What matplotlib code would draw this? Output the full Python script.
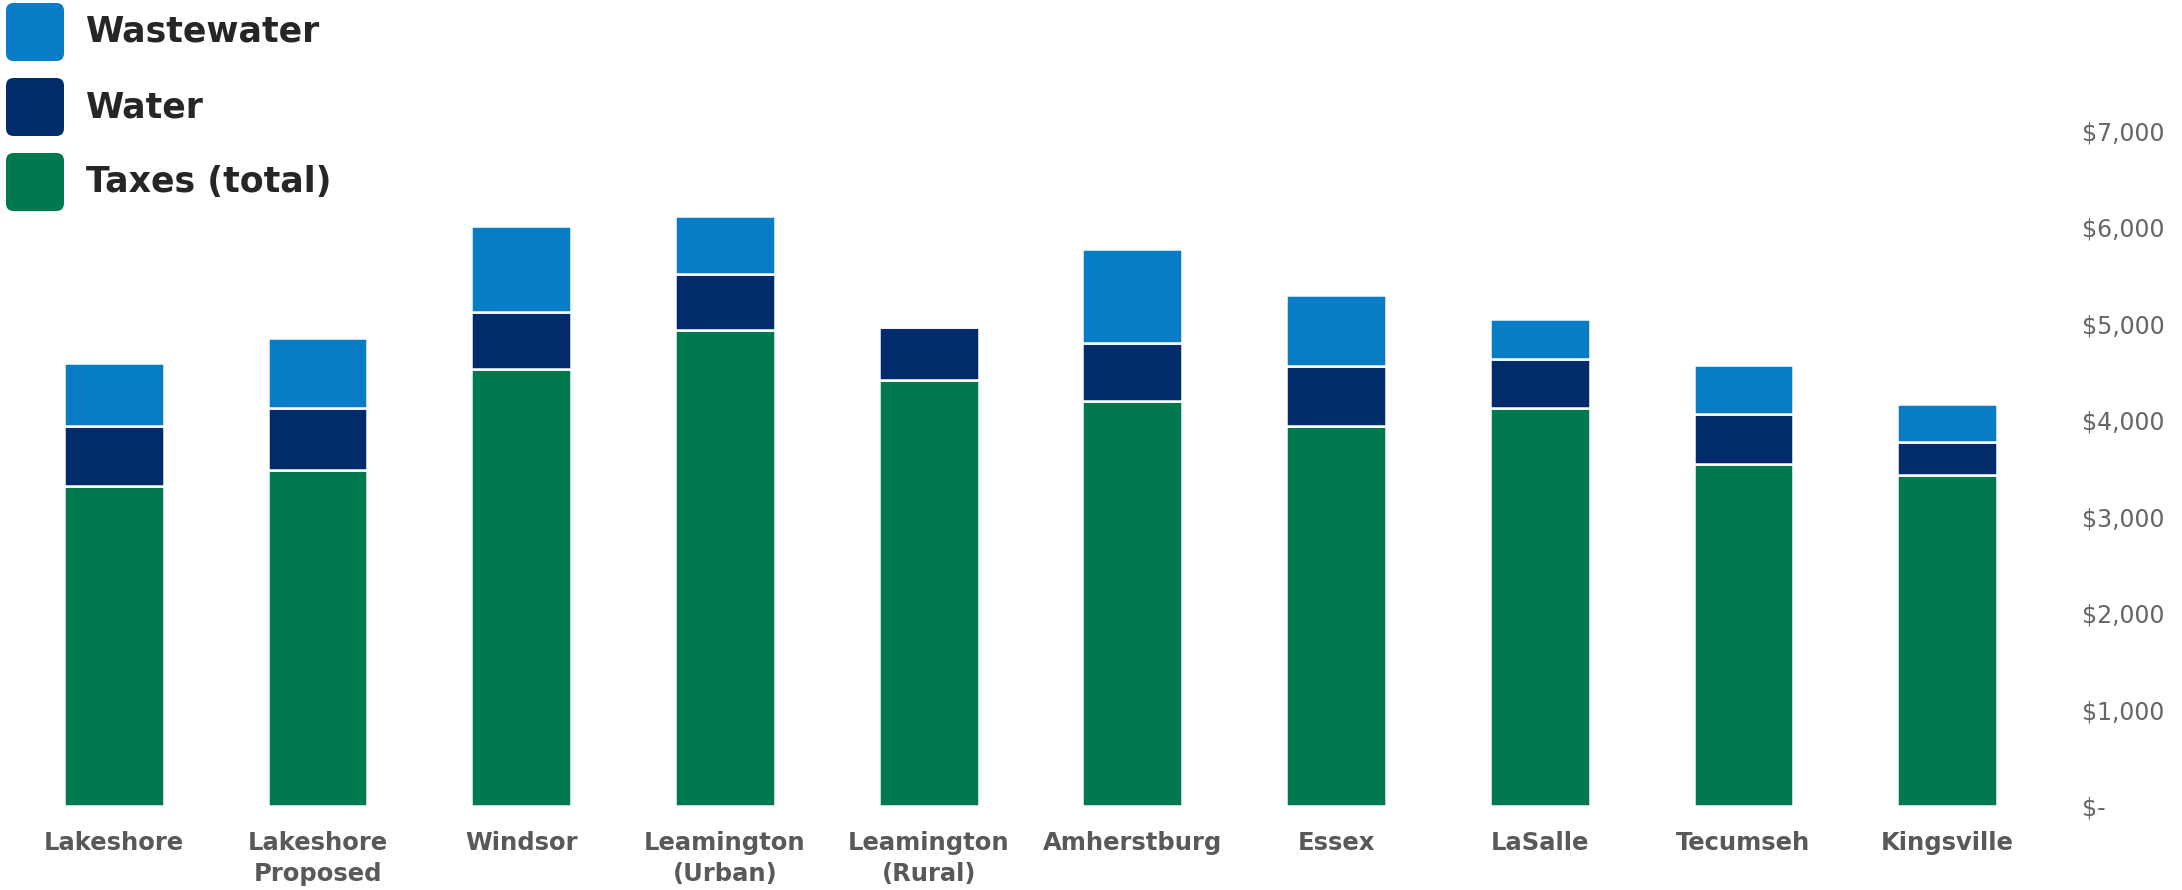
import numpy as np
import matplotlib
matplotlib.use('Agg')
import matplotlib.pyplot as plt
from matplotlib.patches import FancyBboxPatch
from matplotlib.ticker import FuncFormatter

# ── Data ──────────────────────────────────────────────────────────────────────
municipalities = ['Lakeshore', 'Lakeshore\nProposed', 'Windsor', 'Leamington\n(Urban)',
                  'Leamington\n(Rural)', 'Amherstburg', 'Essex', 'LaSalle',
                  'Tecumseh', 'Kingsville']
taxes      = [3320, 3480, 4530, 4935, 4415, 4200, 3940, 4130, 3550, 3435]
water      = [620, 650, 590, 580, 550, 605, 620, 505, 520, 345]
wastewater = [650, 720, 895, 605, 0, 970, 735, 420, 505, 390]

series_names = ['Wastewater', 'Water', 'Taxes (total)']
colors = {'Wastewater': '#087CC4', 'Water': '#012B6B', 'Taxes (total)': '#00794F'}

# ── Figure ────────────────────────────────────────────────────────────────────
W, H = 2182, 890
fig = plt.figure(figsize=(W / 100, H / 100), dpi=100)
ax = fig.add_axes([12 / W, 1 - 806 / H, (2049 - 12) / W, (806 - 131) / H])

x = np.arange(len(municipalities))
width = 0.49
taxes_a = np.array(taxes)
water_a = np.array(water)
ww_a = np.array(wastewater)

ax.bar(x, taxes_a, width, color=colors['Taxes (total)'], edgecolor='white', linewidth=1.8)
ax.bar(x, water_a, width, bottom=taxes_a, color=colors['Water'], edgecolor='white', linewidth=1.8)
ax.bar(x, ww_a, width, bottom=taxes_a + water_a, color=colors['Wastewater'],
       edgecolor='white', linewidth=1.8)

ax.set_xlim(-0.5, len(municipalities) - 0.5)
ax.set_ylim(0, 7000)
ax.set_yticks(range(0, 7001, 1000))
ax.yaxis.set_major_formatter(FuncFormatter(lambda v, p: '$-' if v == 0 else f'${v:,.0f}'))
ax.yaxis.tick_right()
ax.tick_params(axis='y', length=0, pad=24, labelsize=17, labelcolor='#666666')
ax.set_xticks(x)
ax.set_xticklabels(municipalities, fontsize=17.5, fontweight='bold', color='#595959',
                   linespacing=1.35)
ax.tick_params(axis='x', length=0, pad=18)
for s in ax.spines.values():
    s.set_visible(False)

# ── Legend (rounded swatches, top-left) ──────────────────────────────────────
sw = 58
tops = [3, 78, 153]
for name, top in zip(series_names, tops):
    fig.patches.append(FancyBboxPatch(
        (6 / W, 1 - (top + sw) / H), sw / W, sw / H,
        boxstyle='round,pad=0,rounding_size=0.0035', mutation_aspect=W / H,
        transform=fig.transFigure, facecolor=colors[name], edgecolor='none'))
    fig.text(86 / W, 1 - (top + sw / 2) / H, name, fontsize=25, fontweight='bold',
             color='#262626', va='center', ha='left')

fig.savefig('out.png', dpi=100)
